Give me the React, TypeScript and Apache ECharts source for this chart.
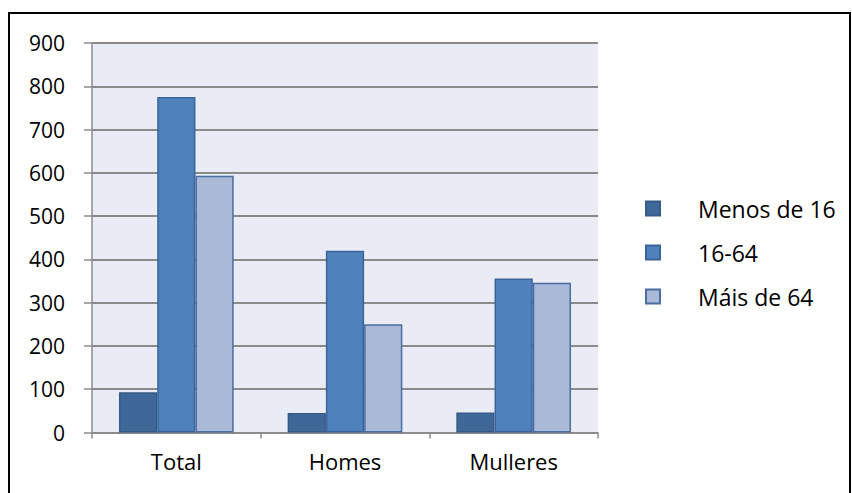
import React, { useEffect, useRef } from "react";
import * as echarts from "echarts";

const categories = ["Total", "Homes", "Mulleres"];
const seriesNames = ["Menos de 16", "16-64", "Máis de 64"];
const menos16 = [93, 45, 46];
const age16to64 = [775, 420, 356];
const mais64 = [593, 250, 346];
const yTicks = [0, 100, 200, 300, 400, 500, 600, 700, 800, 900];

const fillColors = ["#3F6899", "#4F81BD", "#AAB9D8"];
const borderColors = ["#365B88", "#3A649A", "#4A6EA0"];

export default function App() {
  const ref = useRef<HTMLDivElement>(null);
  useEffect(() => {
    if (!ref.current) return;
    const chart = echarts.init(ref.current, undefined, { renderer: "svg" });
    const font = "'Open Sans', sans-serif";
    const data = [menos16, age16to64, mais64];
    chart.setOption({
      animation: false,
      backgroundColor: "#ffffff",
      textStyle: { fontFamily: font },
      grid: { left: 92, top: 43, right: 254, bottom: 60.5, show: true, backgroundColor: "#E9ECF4", borderWidth: 0 },
      xAxis: {
        type: "category",
        data: categories,
        axisLine: { lineStyle: { color: "#8C8C8C", width: 1.5 } },
        axisTick: { show: true, length: 6, lineStyle: { color: "#8C8C8C", width: 1.5 } },
        axisLabel: { color: "#000", fontSize: 22, margin: 17, fontFamily: font },
      },
      yAxis: {
        type: "value",
        min: yTicks[0],
        max: yTicks[yTicks.length - 1],
        interval: 100,
        axisLine: { show: true, lineStyle: { color: "#8C8C8C", width: 1.5 } },
        axisTick: { show: true, length: 8, lineStyle: { color: "#8C8C8C", width: 1.5 } },
        splitLine: { lineStyle: { color: "#8A8A8A", width: 1.8 } },
        axisLabel: { color: "#000", fontSize: 21, margin: 27, fontFamily: font },
      },
      legend: {
        orient: "vertical",
        left: 640,
        top: 192,
        itemWidth: 14,
        itemHeight: 14,
        itemGap: 21,
        icon: "rect",
        textStyle: { fontSize: 23, color: "#000", fontFamily: font, padding: [0, 0, 0, 33] },
        data: seriesNames,
      },
      series: seriesNames.map((name, i) => ({
        name,
        type: "bar",
        data: data[i],
        barGap: "0%",
        barCategoryGap: "32%",
        itemStyle: { color: fillColors[i], borderColor: borderColors[i], borderWidth: 1.5 },
      })),
      graphic: [
        {
          type: "rect",
          shape: { x: 9, y: 13, width: 841, height: 490 },
          style: { fill: "none", stroke: "#000", lineWidth: 2 },
          silent: true,
        },
      ],
    });
    return () => chart.dispose();
  }, []);
  return (
    <div
      ref={ref}
      style={{ position: "fixed", left: 0, top: 0, width: 852, height: 493 }}
    />
  );
}
